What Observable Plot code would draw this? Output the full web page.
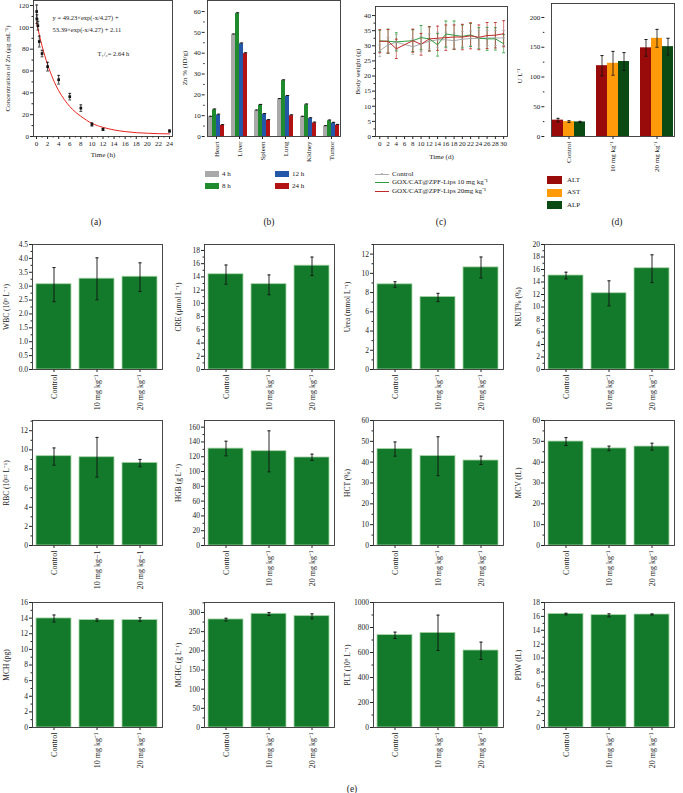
<!DOCTYPE html>
<html>
<head>
<meta charset="utf-8">
<script src="https://cdn.jsdelivr.net/npm/d3@7"></script>
<script src="https://cdn.jsdelivr.net/npm/@observablehq/plot@0.6"></script>
<style>
html,body{margin:0;padding:0;background:#fff;}
#root{position:relative;width:683px;height:793px;overflow:hidden;font-family:"Liberation Serif","Times New Roman",serif;color:#222;}
.plab{position:absolute;font-size:9.5px;transform:translate(-50%,-50%);white-space:nowrap;}
.ylab{position:absolute;font-size:7px;line-height:1;white-space:nowrap;transform:translate(-50%,-50%) rotate(-90deg);}
.legend{position:absolute;font-size:7px;line-height:1;}
.legend .item{display:flex;align-items:center;white-space:nowrap;}
</style>
</head>
<body>
<div id="root"></div>
<script>
// ---------------- DATA ----------------
// (a) pharmacokinetics
const pkTime = [0.033, 0.083, 0.25, 0.5, 1, 2, 4, 6, 8, 10, 12, 24];
const pkConc = [114.5, 107.5, 101.5, 87, 76, 64, 52, 36.5, 26, 11, 6.5, 5];
const pkErr  = [6, 4, 4, 5, 3, 4, 4, 3, 3, 1.5, 1, 1];
const fitTime = [0, 1, 2, 3, 4, 5, 6, 7, 8, 9, 10, 11, 12, 14, 16, 18, 20, 22, 24];
const fitConc = [104.5, 83, 66, 52.5, 42, 34, 27.5, 22.5, 18.5, 15, 12, 10, 8.4, 6, 4.5, 3.5, 3, 2.6, 2.4];
const pkNotes = ["y = 49.23×exp(-x/4.27) +", "53.39×exp(-x/4.27) + 2.11", "T₁/₂= 2.64 h"];

// (b) biodistribution
const organs = ["Heart", "Liver", "Spleen", "Lung", "Kidney", "Tumor"];
const bioTimes = ["4 h", "8 h", "12 h", "24 h"];
const bioColors = ["#a9a9a9", "#1f8a2e", "#2457a8", "#b21214"];
const bio4h  = [9.3, 48.8, 12.3, 17.8, 9.3, 4.8];
const bio8h  = [12.8, 59.0, 15.0, 26.8, 15.2, 7.5];
const bio12h = [10.3, 44.5, 10.6, 19.3, 8.6, 6.4];
const bio24h = [5.3, 39.8, 7.7, 10.0, 6.5, 5.4];
const bioErr = [0.4, 0.4, 0.4, 0.4, 0.4, 0.4];
const bioYLabel = "Zn % (ID/g)";

// (c) body weight
const bwDays = [0, 2, 4, 8, 10, 12, 14, 16, 18, 20, 22, 24, 26, 28, 30];
const bwSeries = ["Control", "GOX/CAT@ZPF-Lips 10 mg kg⁻¹", "GOX/CAT@ZPF-Lips 20mg kg⁻¹"];
const bwColors = ["#ababab", "#2e9c3e", "#c02a2a"];
const bwControl = [28.4, 30.3, 31.2, 29.7, 30.6, 31.5, 32.0, 32.0, 31.7, 32.2, 32.4, 32.5, 32.6, 32.6, 32.6];
const bw10 = [31.6, 31.5, 31.3, 31.7, 32.7, 32.3, 30.3, 33.9, 33.5, 33.1, 33.6, 32.5, 32.3, 32.3, 30.7];
const bw20 = [31.5, 31.5, 29.0, 31.7, 30.5, 32.3, 32.5, 32.7, 32.9, 32.9, 33.3, 32.8, 33.4, 33.5, 34.0];
const bwControlErr = [2.0, 2.5, 2.5, 2.5, 2.5, 2.5, 2.5, 2.5, 2.5, 2.5, 2.5, 2.5, 2.5, 2.5, 2.5];
const bw10Err = [3.6, 4.0, 3.0, 3.6, 4.0, 4.0, 3.7, 4.3, 4.7, 3.8, 3.8, 3.5, 3.8, 3.7, 3.0];
const bw20Err = [3.8, 3.9, 3.2, 3.8, 3.6, 4.0, 4.0, 4.2, 4.0, 4.2, 4.3, 4.1, 4.3, 4.2, 4.3];

// (d) liver enzymes
const doseGroups = ["Control", "10 mg kg⁻¹", "20 mg kg⁻¹"];
const enzymes = ["ALT", "AST", "ALP"];
const enzColors = ["#990b0b", "#ff9a0a", "#0c4a14"];
const altVal = [27.5, 119, 149], altErr = [3, 17, 14];
const astVal = [25, 123, 165], astErr = [1.5, 20, 15];
const alpVal = [24.5, 126, 151], alpErr = [1, 15, 14];
const enzYLabel = "U L⁻¹";

// (e) blood panels
const groupsE = ["Control", "10 mg kg⁻¹", "20 mg kg⁻¹"];
const groupsRBC = ["Control", "10 mg kg−1", "20 mg kg−1"];
const bloodLabels = ["WBC (10⁹ L⁻¹)", "CRE (μmol L⁻¹)", "Urea (mmol L⁻¹)", "NEUT% (%)",
                     "RBC (10¹² L⁻¹)", "HGB (g L⁻¹)", "HCT (%)", "MCV (fL)",
                     "MCH (pg)", "MCHC (g L⁻¹)", "PLT (10⁹ L⁻¹)", "PDW (fL)"];
const bloodMax  = [4.5, 18.9, 13, 20, 13.07, 169, 60, 60, 16, 326, 1000, 18];
const bloodStep = [0.5, 2, 2, 2, 2, 20, 10, 10, 2, 50, 200, 2];
const bloodMean = [[3.07, 3.27, 3.34], [14.4, 12.9, 15.7], [8.86, 7.54, 10.62], [15.04, 12.2, 16.2],
                   [9.34, 9.23, 8.64], [131, 127.5, 119], [46.3, 42.9, 40.8], [49.9, 46.6, 47.5],
                   [13.96, 13.75, 13.75], [281.8, 296.5, 290.4], [739, 757, 616], [16.35, 16.18, 16.27]];
const bloodLow  = [[2.44, 2.51, 2.81], [12.9, 11.3, 14.2], [8.55, 7.06, 9.52], [14.5, 10.19, 13.9],
                   [8.4, 7.16, 8.23], [121.2, 99.6, 115], [42.9, 33.5, 38.9], [48, 45.5, 45.8],
                   [13.5, 13.6, 13.6], [278, 292, 283.5], [712, 616, 544], [16.22, 15.94, 16.2]];
const bloodHigh = [[3.67, 4.02, 3.84], [15.8, 14.3, 17.0], [9.13, 7.92, 11.7], [15.57, 14.19, 18.35],
                   [10.2, 11.3, 9.0], [141, 155, 123.5], [49.7, 52.2, 42.9], [51.8, 47.7, 49.1],
                   [14.4, 13.9, 14.05], [285, 300, 296.5], [763, 899, 683], [16.45, 16.37, 16.35]];

// ---------------- HELPERS ----------------
const FONT = '"Liberation Serif", "Times New Roman", serif';
const root = document.getElementById("root");
const cap = {draw(ctx, size) { const r = Math.sqrt(size / Math.PI); ctx.moveTo(-r, 0); ctx.lineTo(r, 0); }};
const style = fs => ({fontFamily: FONT, fontSize: fs + "px", color: "#222", background: "transparent", overflow: "visible"});
function place(svg, left, top) {
  svg.style.position = "absolute"; svg.style.left = left + "px"; svg.style.top = top + "px";
  root.append(svg);
}
function addYLabel(text, cx, cy) {
  const d = document.createElement("div");
  d.className = "ylab"; d.style.left = cx + "px"; d.style.top = cy + "px"; d.textContent = text;
  root.append(d);
}
const majors = (max, step) => d3.range(0, max + 1e-9, step);
const minors = (max, step) => d3.range(step / 2, max + 1e-9, step);
const blank = () => "";
const FRAME = "#333";
const minorY = (ticks, extra = {}) => Plot.axisY({...extra, ticks, tickSize: 1.5, tickFormat: blank, label: null});
const minorX = (ticks, extra = {}) => Plot.axisX({...extra, ticks, tickSize: 1.5, tickFormat: blank, label: null});
// offset of the first facet from the frame edge (band-scale outer padding), for the y axis of faceted panels
const outerOffset = (width, n, pi, po) => po * width / (n - pi + 2 * po);

// ---------------- (a) ----------------
{
  const fl = 33, ft = 0, fw = 139, fh = 136, ml = 32, mr = 4, mt = 4, mb = 30;
  const pk = pkTime.map((t, i) => ({t, c: pkConc[i], lo: pkConc[i] - pkErr[i], hi: pkConc[i] + pkErr[i]}));
  const fit = fitTime.map((t, i) => ({t, c: fitConc[i]}));
  const svg = Plot.plot({
    width: fw + ml + mr, height: fh + mt + mb, marginLeft: ml, marginRight: mr, marginTop: mt, marginBottom: mb,
    style: style(7),
    x: {domain: [-0.54, 24.54]},
    y: {domain: [0, 124.6]},
    marks: [
      Plot.line(fit, {x: "t", y: "c", stroke: "#e8231e", strokeWidth: 1, curve: "natural"}),
      Plot.ruleX(pk, {x: "t", y1: "lo", y2: "hi", stroke: "#111", strokeWidth: 0.8}),
      Plot.dot(pk, {x: "t", y: "lo", symbol: cap, r: 1.4, stroke: "#111", fill: "none", strokeWidth: 0.8}),
      Plot.dot(pk, {x: "t", y: "hi", symbol: cap, r: 1.4, stroke: "#111", fill: "none", strokeWidth: 0.8}),
      Plot.dot(pk, {x: "t", y: "c", symbol: "square", r: 1.5, fill: "#111"}),
      Plot.text([pkNotes[0]], {frameAnchor: "top-left", dx: 19, dy: 15, fontSize: 6.5, fill: "#222"}),
      Plot.text([pkNotes[1]], {frameAnchor: "top-left", dx: 19, dy: 27, fontSize: 6.5, fill: "#222"}),
      Plot.text([pkNotes[2]], {frameAnchor: "top-left", dx: 64, dy: 51, fontSize: 6.5, fill: "#222"}),
      Plot.axisY({ticks: majors(120, 20), tickSize: 3, tickPadding: 1.5, label: "Concentration of Zn (μg mL⁻¹)", labelAnchor: "center", labelArrow: "none", labelOffset: 28.5}),
      minorY(minors(120, 20)),
      Plot.axisX({ticks: majors(24, 2), tickSize: 3, tickPadding: 1.5, label: "Time (h)", labelAnchor: "center", labelArrow: "none", labelOffset: 20.5}),
      minorX(minors(24, 2)),
      Plot.frame({stroke: FRAME, strokeWidth: 0.9})
    ]
  });
  place(svg, fl - ml, ft - mt);
}

// ---------------- (b) ----------------
{
  const fl = 204, ft = 0, fw = 140, fh = 136, ml = 26, mr = 4, mt = 4, mb = 40;
  const pi = 0.2, po = 0.1, off = outerOffset(fw, organs.length, pi, po);
  const vals = [bio4h, bio8h, bio12h, bio24h];
  const rows = organs.flatMap((o, i) => bioTimes.map((t, j) => ({organ: o, time: t, v: vals[j][i], hi: vals[j][i] + bioErr[i]})));
  const svg = Plot.plot({
    width: fw + ml + mr, height: fh + mt + mb, marginLeft: ml, marginRight: mr, marginTop: mt, marginBottom: mb,
    style: style(7),
    fx: {domain: organs, paddingInner: pi, paddingOuter: po, axis: "bottom", tickRotate: -90, tickSize: 3, tickPadding: 2, label: null},
    x: {domain: bioTimes, padding: 0.04, axis: null},
    y: {domain: [0, 65.3]},
    color: {domain: bioTimes, range: bioColors},
    marks: [
      Plot.barY(rows, {fx: "organ", x: "time", y: "v", fill: "time"}),
      Plot.ruleX(rows, {fx: "organ", x: "time", y1: "v", y2: "hi", stroke: "#111", strokeWidth: 0.8}),
      Plot.dot(rows, {fx: "organ", x: "time", y: "hi", symbol: cap, r: 1.7, stroke: "#111", fill: "none", strokeWidth: 1}),
      Plot.axisY({dx: -off, ticks: majors(60, 10), tickSize: 3, tickPadding: 1.5, label: null}),
      minorY(minors(60, 10), {dx: -off}),
      Plot.frame({facet: "super", stroke: FRAME, strokeWidth: 0.9})
    ]
  });
  place(svg, fl - ml, ft - mt);
  addYLabel(bioYLabel, fl - 19, ft + fh / 2);
}

// ---------------- (c) ----------------
{
  const fl = 375, ft = 6, fw = 132, fh = 130, ml = 24, mr = 4, mt = 4, mb = 30;
  const vals = [bwControl, bw10, bw20], errs = [bwControlErr, bw10Err, bw20Err];
  const rows = bwSeries.flatMap((s, k) => bwDays.map((d, i) => ({s, d, w: vals[k][i], lo: vals[k][i] - errs[k][i], hi: vals[k][i] + errs[k][i]})));
  const svg = Plot.plot({
    width: fw + ml + mr, height: fh + mt + mb, marginLeft: ml, marginRight: mr, marginTop: mt, marginBottom: mb,
    style: style(7),
    x: {domain: [-1.04, 30.94]},
    y: {domain: [0, 43]},
    color: {domain: bwSeries, range: bwColors},
    marks: [
      Plot.ruleX(rows, {x: "d", y1: "lo", y2: "hi", stroke: "s", strokeWidth: 0.8, strokeOpacity: 0.75}),
      Plot.dot(rows, {x: "d", y: "lo", symbol: cap, r: 1.4, stroke: "s", fill: "none", strokeWidth: 0.9}),
      Plot.dot(rows, {x: "d", y: "hi", symbol: cap, r: 1.4, stroke: "s", fill: "none", strokeWidth: 0.9}),
      Plot.line(rows, {x: "d", y: "w", z: "s", stroke: "s", strokeWidth: 1}),
      Plot.dot(rows.filter(r => r.s === bwSeries[0]), {x: "d", y: "w", r: 0.9, fill: "#9a9a9a"}),
      Plot.axisY({ticks: majors(40, 5), tickSize: 3, tickPadding: 1.5, label: "Body weight (g)", labelAnchor: "center", labelArrow: "none", labelOffset: 20.5}),
      minorY(minors(40, 5)),
      Plot.axisX({ticks: majors(30, 2), tickSize: 3, tickPadding: 1.5, label: "Time (d)", labelAnchor: "center", labelArrow: "none", labelOffset: 22}),
      Plot.frame({stroke: FRAME, strokeWidth: 0.9})
    ]
  });
  place(svg, fl - ml, ft - mt);
}

// ---------------- (d) ----------------
{
  const fl = 544, ft = 3, fw = 137, fh = 133, ml = 30, mr = 2, mt = 4, mb = 45;
  const pi = 0.2, po = 0.15, off = outerOffset(fw, doseGroups.length, pi, po);
  const vals = [altVal, astVal, alpVal], errs = [altErr, astErr, alpErr];
  const rows = doseGroups.flatMap((g, i) => enzymes.map((e, j) => ({g, e, v: vals[j][i], lo: vals[j][i] - errs[j][i], hi: vals[j][i] + errs[j][i]})));
  const svg = Plot.plot({
    width: fw + ml + mr, height: fh + mt + mb, marginLeft: ml, marginRight: mr, marginTop: mt, marginBottom: mb,
    style: style(7),
    fx: {domain: doseGroups, paddingInner: pi, paddingOuter: po, axis: "bottom", tickRotate: -90, tickSize: 3, tickPadding: 2, label: null},
    x: {domain: enzymes, padding: 0.03, axis: null},
    y: {domain: [0, 223.5]},
    color: {domain: enzymes, range: enzColors},
    marks: [
      Plot.barY(rows, {fx: "g", x: "e", y: "v", fill: "e"}),
      Plot.ruleX(rows, {fx: "g", x: "e", y1: "lo", y2: "hi", stroke: "#111", strokeWidth: 0.8}),
      Plot.dot(rows, {fx: "g", x: "e", y: "lo", symbol: cap, r: 1.6, stroke: "#111", fill: "none", strokeWidth: 0.9}),
      Plot.dot(rows, {fx: "g", x: "e", y: "hi", symbol: cap, r: 1.6, stroke: "#111", fill: "none", strokeWidth: 0.9}),
      Plot.axisY({dx: -off, ticks: majors(200, 50), tickSize: 3, tickPadding: 1.5, label: null}),
      minorY(minors(200, 50), {dx: -off}),
      Plot.frame({facet: "super", stroke: FRAME, strokeWidth: 0.9})
    ]
  });
  place(svg, fl - ml, ft - mt);
  addYLabel(enzYLabel, fl - 24, ft + fh / 2 + 6);
}

// ---------------- (e) ----------------
{
  const colLeft = [32, 204, 373, 544], rowTop = [244, 420, 602];
  const fw = 130, fh = 125, ml = 42, mr = 4, mt = 4, mb = 52;
  bloodLabels.forEach((label, p) => {
    const groups = p === 4 ? groupsRBC : groupsE;
    const rows = groups.map((g, i) => ({g, v: bloodMean[p][i], lo: bloodLow[p][i], hi: bloodHigh[p][i]}));
    const max = bloodMax[p], step = bloodStep[p];
    const svg = Plot.plot({
      width: fw + ml + mr, height: fh + mt + mb, marginLeft: ml, marginRight: mr, marginTop: mt, marginBottom: mb,
      style: style(7.5),
      x: {domain: groups, paddingInner: 0.18, paddingOuter: 0.1},
      y: {domain: [0, max]},
      marks: [
        Plot.barY(rows, {x: "g", y: "v", fill: "#137a2b", stroke: "#a8d5a8", strokeWidth: 0.8}),
        Plot.ruleX(rows, {x: "g", y1: "lo", y2: "hi", stroke: "#111", strokeWidth: 0.9}),
        Plot.dot(rows, {x: "g", y: "lo", symbol: cap, r: 1.6, stroke: "#111", fill: "none", strokeWidth: 0.9}),
        Plot.dot(rows, {x: "g", y: "hi", symbol: cap, r: 1.6, stroke: "#111", fill: "none", strokeWidth: 0.9}),
        Plot.axisY({ticks: majors(max, step), tickSize: 3, tickPadding: 1.5, tickFormat: d3.format(p === 0 ? ".1f" : "d"),
                    label, labelAnchor: "center", labelArrow: "none", labelOffset: 29}),
        minorY(minors(max, step)),
        Plot.axisX({tickRotate: -90, tickSize: 3, tickPadding: 2, label: null, fontSize: 8}),
        Plot.frame({stroke: FRAME, strokeWidth: 0.9})
      ]
    });
    place(svg, colLeft[p % 4] - ml, rowTop[Math.floor(p / 4)] - mt);
  });
}

// ---------------- legends & labels ----------------
function addLegend(left, top, html) {
  const d = document.createElement("div");
  d.className = "legend"; d.style.left = left + "px"; d.style.top = top + "px";
  d.innerHTML = html; root.append(d);
}
// (b) legend: two columns
{
  let html = '<div style="display:grid;grid-template-columns:70px 70px;grid-auto-flow:column;grid-template-rows:12px 12px;">';
  [0, 1, 2, 3].forEach(j => {
    html += `<div class="item"><span style="display:inline-block;width:14px;height:6px;background:${bioColors[j]};margin-right:3px"></span>${bioTimes[j]}</div>`;
  });
  html += '</div>';
  addLegend(205, 168, html);
}
// (c) legend
{
  let html = '';
  bwSeries.forEach((s, k) => {
    const marker = k === 0 ? `<span style="position:absolute;left:6px;top:-1px;width:2px;height:2px;background:${bwColors[k]};border-radius:1px"></span>` : '';
    html += `<div class="item" style="height:8.5px"><span style="position:relative;display:inline-block;width:14px;height:1px;background:${bwColors[k]};margin-right:3px">${marker}</span>${s}</div>`;
  });
  addLegend(375, 170, html);
}
// (d) legend
{
  let html = '';
  enzymes.forEach((e, j) => {
    html += `<div class="item" style="height:12.5px"><span style="display:inline-block;width:15px;height:8px;background:${enzColors[j]};margin-right:5px"></span>${e}</div>`;
  });
  addLegend(547, 174, html);
}
// panel letters
[["(a)", 96, 222], ["(b)", 269, 222], ["(c)", 441, 222], ["(d)", 617, 222], ["(e)", 352, 789]].forEach(([t, x, y]) => {
  const d = document.createElement("div");
  d.className = "plab"; d.style.left = x + "px"; d.style.top = y + "px"; d.textContent = t;
  root.append(d);
});
</script>
</body>
</html>
